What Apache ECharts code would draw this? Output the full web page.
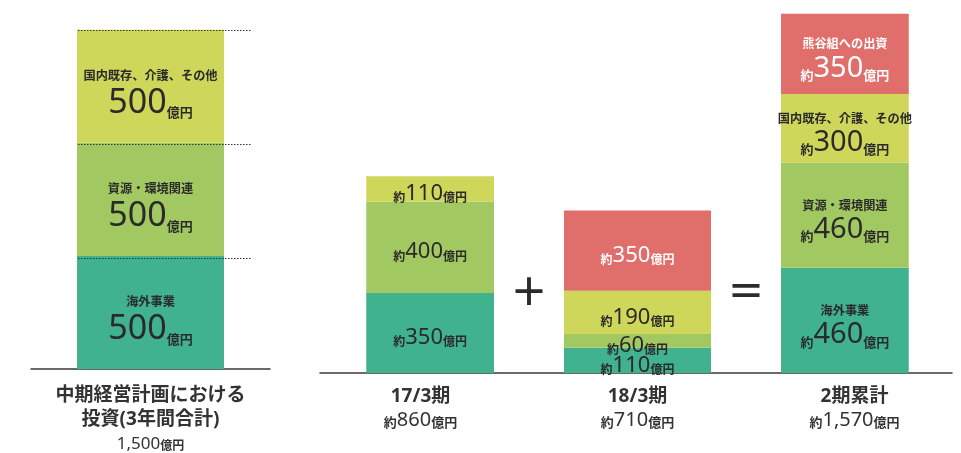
<!DOCTYPE html>
<html><head><meta charset="utf-8">
<script src="https://cdn.jsdelivr.net/npm/echarts@6/dist/echarts.min.js"></script>
<style>html,body{margin:0;padding:0;background:#fff}#c{width:961px;height:453px}</style>
</head><body><div id="c"></div>
<script>
// ---- data ----
const planTitleLines = ['中期経営計画における', '投資(3年間合計)'];
const planCategories = ['中期経営計画における投資(3年間合計)'];
const segmentNames = ['海外事業', '資源・環境関連', '国内既存、介護、その他', '熊谷組への出資'];
const planValues = [500, 500, 500];
const periodCategories = ['17/3期', '+', '18/3期', '=', '2期累計'];
const overseasValues = [350, null, 110, null, 460];
const resourceValues = [400, null, 60, null, 460];
const domesticValues = [110, null, 190, null, 300];
const kumagaiValues = [null, null, 350, null, 350];
const planTicks = [0, 500, 1000, 1500];

// ---- styles ----
const FONT = "'Noto Sans', 'Noto Sans CJK JP', sans-serif";
const colors = ['#41B28E', '#A2C862', '#CFD75A', '#E06E6A'];
const TXT = '#2a2a2a';
const fmt = v => v.toLocaleString('en-US');

const periodSeriesValues = [overseasValues, resourceValues, domesticValues, kumagaiValues];
const periodTotals = periodCategories.map((c, i) =>
  periodSeriesValues.reduce((s, arr) => s + (arr[i] || 0), 0));
const planTotal = planValues.reduce((a, b) => a + b, 0);
const summaryIndex = periodCategories.length - 1;

const series = [];
planValues.forEach((v, k) => {
  series.push({
    type: 'bar', name: segmentNames[k], stack: 'plan', xAxisIndex: 0, yAxisIndex: 0,
    data: [v], barWidth: 147, itemStyle: { color: colors[k] },
    label: {
      show: true, position: 'inside', offset: [0, 4], fontFamily: FONT, color: TXT,
      formatter: p => `{name|${p.seriesName}}\n{n|${p.value}}{u|億円}`,
      rich: {
        name: { fontSize: 12.2, lineHeight: 22, fontFamily: FONT, color: TXT, fontWeight: 'bold', verticalAlign: 'bottom' },
        n: { fontSize: 34, lineHeight: 38, fontFamily: FONT, color: TXT, verticalAlign: 'bottom' },
        u: { fontSize: 13, lineHeight: 22, fontFamily: FONT, color: TXT, fontWeight: 'bold', verticalAlign: 'bottom' }
      }
    }
  });
});
periodSeriesValues.forEach((arr, k) => {
  const c = k === 3 ? '#ffffff' : TXT;
  series.push({
    type: 'bar', name: segmentNames[k], stack: 'period', xAxisIndex: 1, yAxisIndex: 1,
    data: arr.map((v, i) => v == null ? v : {
      value: v, label: i === summaryIndex ? { offset: [0, 0] } : { offset: [0, 3] } }),
    barWidth: 147, itemStyle: { color: colors[k] },
    label: {
      show: true, position: 'inside', fontFamily: FONT, color: c,
      formatter: p => {
        if (p.value == null) return '';
        if (p.dataIndex === summaryIndex)
          return `{name|${p.seriesName}}\n{s2|約}{n2|${p.value}}{s2|億円}`;
        return `{s|約}{n|${p.value}}{s|億円}`;
      },
      rich: {
        name: { fontSize: 12.2, lineHeight: 26, fontFamily: FONT, color: c, fontWeight: 'bold', verticalAlign: 'bottom' },
        n2: { fontSize: 29, lineHeight: 32, fontFamily: FONT, color: c, verticalAlign: 'bottom' },
        s2: { fontSize: 13, lineHeight: 21, fontFamily: FONT, color: c, fontWeight: 'bold', verticalAlign: 'bottom' },
        n: { fontSize: 22, lineHeight: 26, fontFamily: FONT, color: c, verticalAlign: 'bottom' },
        s: { fontSize: 12, lineHeight: 18, fontFamily: FONT, color: c, fontWeight: 'bold', verticalAlign: 'bottom' }
      }
    }
  });
});

const xRich = {
  t: { fontSize: 19, lineHeight: 24, fontFamily: FONT, color: '#333', fontWeight: 'bold', verticalAlign: 'bottom' },
  rt: { fontSize: 19, lineHeight: 21, fontFamily: FONT, color: '#333', fontWeight: 'bold', verticalAlign: 'bottom' },
  n: { fontSize: 20, lineHeight: 24, fontFamily: FONT, color: '#333', verticalAlign: 'bottom' },
  s: { fontSize: 13, lineHeight: 19, fontFamily: FONT, color: '#333', fontWeight: 'bold', verticalAlign: 'bottom' },
  ln: { fontSize: 17, lineHeight: 24, fontFamily: FONT, color: '#333', verticalAlign: 'bottom' },
  ls: { fontSize: 12, lineHeight: 20, fontFamily: FONT, color: '#333', fontWeight: 'bold', verticalAlign: 'bottom' }
};

const option = {
  animation: false,
  backgroundColor: '#fff',
  grid: [
    { left: 31, right: 691, top: 7, bottom: 80 },
    { left: 366.25, right: 52.25, top: 7, bottom: 80 },
    { left: 320, right: 9, top: 7, bottom: 80 },
    { left: 78, right: 709, top: 30, bottom: 80 }
  ],
  xAxis: [
    { type: 'category', gridIndex: 0, data: planCategories,
      axisLine: { lineStyle: { color: '#3a3a3a', width: 1.5 } }, axisTick: { show: false },
      axisLabel: { margin: 12, formatter: () =>
        `{t|${planTitleLines[0]}}\n{t|${planTitleLines[1]}}\n{ln|${fmt(planTotal)}}{ls|億円}`, rich: xRich } },
    { type: 'category', gridIndex: 1, data: periodCategories,
      axisLine: { show: false }, axisTick: { show: false },
      axisLabel: { margin: 12, interval: 0, formatter: (v, i) => {
        if (periodTotals[i] === 0) return '';
        return `{rt|${v}}\n{s|約}{n|${fmt(periodTotals[i])}}{s|億円}`;
      }, rich: xRich } },
    { type: 'category', gridIndex: 2, data: [''],
      axisLine: { lineStyle: { color: '#3a3a3a', width: 1.5 } }, axisTick: { show: false }, axisLabel: { show: false } },
    { type: 'category', gridIndex: 3, data: [''], show: false }
  ],
  yAxis: [
    { type: 'value', gridIndex: 0, min: 0, max: 1600, show: false },
    { type: 'value', gridIndex: 1, min: 0, max: 1600, show: false },
    { type: 'value', gridIndex: 2, min: 0, max: 1600, show: false },
    { type: 'value', gridIndex: 3, min: planTicks[0], max: planTicks[planTicks.length - 1],
      interval: planTicks[1] - planTicks[0], z: 10,
      axisLine: { show: false }, axisTick: { show: false }, axisLabel: { show: false },
      splitLine: { show: true, lineStyle: { type: [1.5, 1.5],
        color: ['rgba(0,0,0,0)', '#333', '#333', '#333'], width: 1 } } }
  ],
  series
};

const chart = echarts.init(document.getElementById('c'), null, { renderer: 'canvas' });
chart.setOption(option);

const OP_Y = 291;
const ops = periodCategories.map((c, i) => ({ c, i })).filter(o => periodTotals[o.i] === 0);
chart.setOption({
  graphic: ops.map(o => {
    const px = chart.convertToPixel({ gridIndex: 1 }, [o.i, 0]);
    return {
      type: 'text', x: px[0], y: OP_Y, z: 20,
      style: { text: o.c === '+' ? '＋' : '＝', fontSize: 38, fontFamily: "'Noto Sans CJK JP'",
        fontWeight: 'bold', fill: '#2b2b2b', align: 'center', verticalAlign: 'middle' }
    };
  })
});
</script>
</body></html>
